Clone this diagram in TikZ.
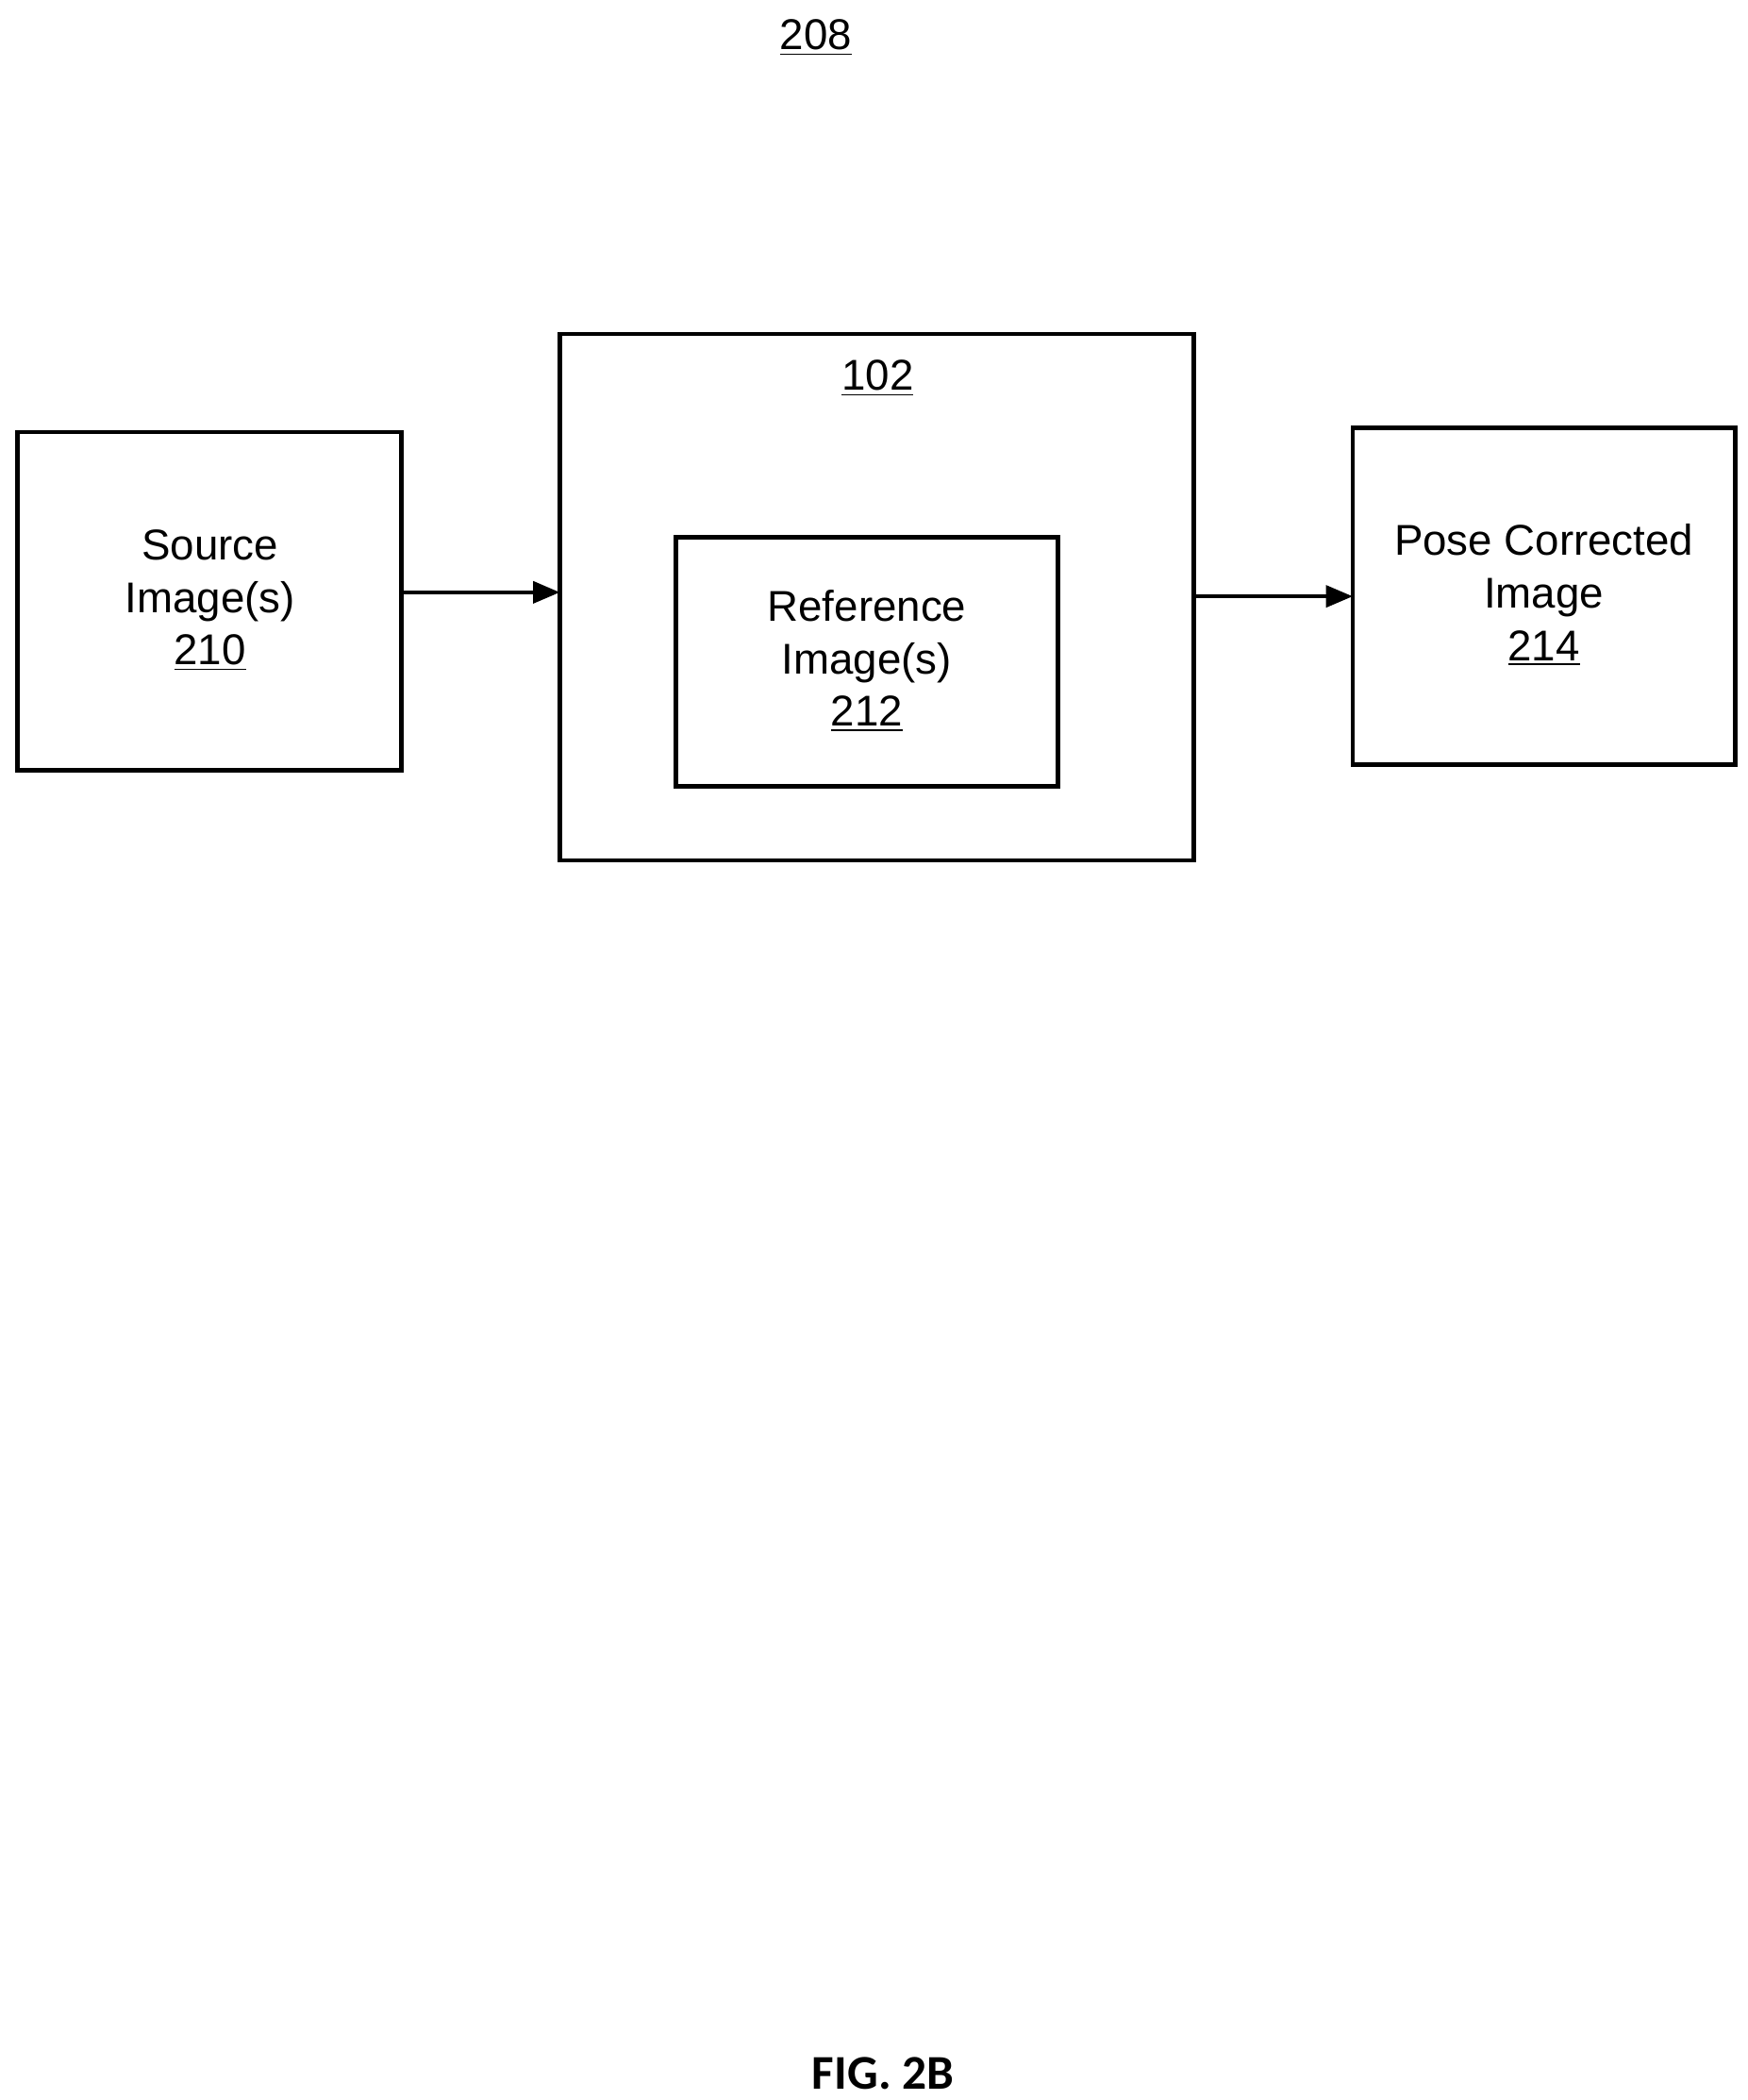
\documentclass[tikz,border=0pt]{standalone}
\usepackage{fontspec}
\setmainfont{Liberation Sans}
\newfontfamily\figfont{Carlito}
\usetikzlibrary{arrows.meta}
\begin{document}
\begin{tikzpicture}[x=0.5pt,y=-0.5pt,
  box/.style={draw,line width=1.6pt},
  lbl/.style={font=\fontsize{16}{19.5}\selectfont,align=center},
  arr/.style={line width=1.6pt,-{Triangle[length=10pt,width=8pt]}}]
\useasboundingbox (0,0) rectangle (1298,1560);
\node[lbl] (t208) at (606,28) {\underline{208}};
\draw[box] (13,321) rectangle (298,572);
\node[lbl] (src) at (156,446) {Source\\Image(s)\\\underline{210}};
\draw[box] (416,248) rectangle (887,639);
\node[lbl] (t102) at (652,281) {\underline{102}};
\draw[box] (502,399) rectangle (786,584);
\node[lbl] (ref) at (644,491) {Reference\\Image(s)\\\underline{212}};
\draw[box] (1005,318) rectangle (1289,568);
\node[lbl] (pose) at (1147,442) {Pose Corrected\\Image\\\underline{214}};
\coordinate (a1) at (298,440); \coordinate (a2) at (416,440);
\coordinate (b1) at (887,443); \coordinate (b2) at (1005,443);
\draw[arr] (a1) -- (a2);
\draw[arr] (b1) -- (b2);
\node[font=\figfont\bfseries\fontsize{18}{20}\selectfont] (fig) at (656,1540) {FIG. 2B};
\end{tikzpicture}
\end{document}
